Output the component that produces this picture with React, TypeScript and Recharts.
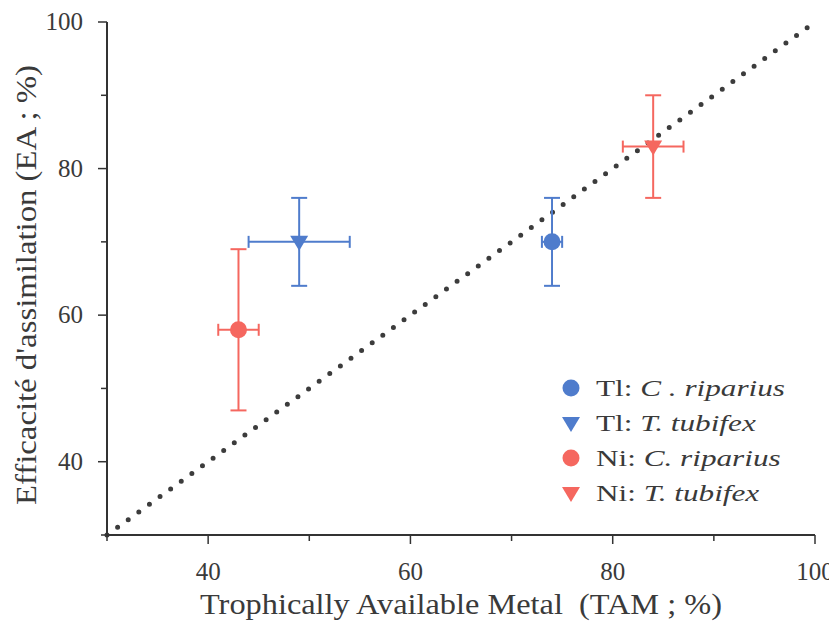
import React from "react";
import {
  ScatterChart,
  Scatter,
  XAxis,
  YAxis,
  ErrorBar,
  ReferenceLine,
} from "recharts";

// ---- data ----
const seriesNames = ["Tl: C . riparius", "Tl: T. tubifex", "Ni: C. riparius", "Ni: T. tubifex"];
const seriesMetal = ["Tl:", "Tl:", "Ni:", "Ni:"];
const seriesSpecies = ["C . riparius", "T. tubifex", "C. riparius", "T. tubifex"];
const seriesShapes = ["circle", "triangle", "circle", "triangle"];
const seriesColors = ["#4f7ccc", "#4f7ccc", "#f5675f", "#f5675f"];
const tamValues = [74, 49, 43, 84];
const tamErrors = [1, 5, 2, 3];
const eaValues = [70, 70, 58, 83];
const eaErrors = [6, 6, 11, 7];
const xTicks = [30, 40, 50, 60, 70, 80, 90, 100];
const yTicks = [30, 40, 50, 60, 70, 80, 90, 100];
const majorTicks = [40, 60, 80, 100];
const identityLine = [
  { x: 30, y: 30 },
  { x: 100, y: 100 },
];

const FONT = "Liberation Serif";
const AXIS = "#333";
const TEXT = "#3a3a3a";

const W = 829;
const H = 616;

const XTick = (props: any) => {
  const { x, y, payload } = props;
  const major = majorTicks.includes(payload.value);
  return (
    <g>
      <line x1={x} x2={x} y1={y} y2={y + (major ? 9 : 6)} stroke={AXIS} strokeWidth={1.5} />
      {major && (
        <text x={x} y={y + 45} textAnchor="middle" fontSize={25} fill={TEXT} style={{ fontFamily: FONT }}>
          {payload.value}
        </text>
      )}
    </g>
  );
};

const YTick = (props: any) => {
  const { x, y, payload } = props;
  const major = majorTicks.includes(payload.value);
  return (
    <g>
      <line x1={x} x2={x - (major ? 9 : 6)} y1={y} y2={y} stroke={AXIS} strokeWidth={1.5} />
      {major && (
        <text x={x - 24} y={y + 8} textAnchor="end" fontSize={25} fill={TEXT} style={{ fontFamily: FONT }}>
          {payload.value}
        </text>
      )}
    </g>
  );
};

const Marker = ({ cx, cy, shape, color }: any) => {
  if (shape === "circle") return <circle cx={cx} cy={cy} r={8.5} fill={color} />;
  return (
    <polygon
      points={`${cx - 9},${cy - 6} ${cx + 9},${cy - 6} ${cx},${cy + 9}`}
      fill={color}
    />
  );
};

const LegendBox = () => (
  <div
    style={{
      position: "absolute",
      left: 550,
      top: 363,
      fontFamily: FONT,
      fontSize: 24,
      color: TEXT,
      lineHeight: "24px",
    }}
  >
    {seriesNames.map((n, i) => (
      <div key={n} style={{ display: "flex", alignItems: "center", height: 34.8, whiteSpace: "nowrap" }}>
        <svg width={26} height={24} style={{ marginRight: 12 }}>
          <Marker cx={13} cy={12} shape={seriesShapes[i]} color={seriesColors[i]} />
        </svg>
        <span style={{ display: "inline-block", transform: "scaleX(1.3)", transformOrigin: "left center" }}>
          {seriesMetal[i]} <i>{seriesSpecies[i]}</i>
        </span>
      </div>
    ))}
  </div>
);

export default function App() {
  return (
    <div style={{ width: W, height: H, position: "relative", background: "#fff" }}>
      <ScatterChart width={W} height={H} margin={{ top: 14, right: 22, bottom: 0, left: 0 }}>
        <XAxis
          type="number"
          dataKey="x"
          domain={[30, 100]}
          ticks={xTicks}
          tick={<XTick />}
          tickSize={0}
          tickMargin={0}
          tickLine={false}
          axisLine={{ stroke: AXIS, strokeWidth: 2 }}
          height={89}
          allowDataOverflow
        />
        <XAxis
          xAxisId="top"
          orientation="top"
          type="number"
          domain={[30, 100]}
          tick={false}
          tickLine={false}
          axisLine={{ stroke: "#2f4a40", strokeWidth: 2 }}
          height={0}
        />
        <YAxis
          type="number"
          dataKey="y"
          domain={[30, 100]}
          ticks={yTicks}
          tick={<YTick />}
          tickSize={0}
          tickMargin={0}
          tickLine={false}
          axisLine={{ stroke: AXIS, strokeWidth: 2 }}
          width={99}
          allowDataOverflow
        />
        <YAxis
          yAxisId="right"
          orientation="right"
          type="number"
          domain={[30, 100]}
          tick={false}
          tickLine={false}
          axisLine={{ stroke: AXIS, strokeWidth: 2 }}
          width={0}
        />
        <ReferenceLine
          segment={identityLine}
          stroke="#3c3c3c"
          strokeWidth={5}
          strokeDasharray="0 13.1"
          strokeLinecap="round"
          ifOverflow="visible"
        />
        {seriesNames.map((n, i) => (
          <Scatter
            key={n}
            name={n}
            data={[{ x: tamValues[i], y: eaValues[i], ex: tamErrors[i], ey: eaErrors[i] }]}
            isAnimationActive={false}
            shape={(p: any) => <Marker cx={p.cx} cy={p.cy} shape={seriesShapes[i]} color={seriesColors[i]} />}
          >
            <ErrorBar dataKey="ex" direction="x" width={6} stroke={seriesColors[i]} strokeWidth={2} />
            <ErrorBar dataKey="ey" direction="y" width={8} stroke={seriesColors[i]} strokeWidth={2} />
          </Scatter>
        ))}
        <text
          x={453}
          y={606}
          textAnchor="middle"
          fontSize={30}
          fill={TEXT}
          textLength={522}
          lengthAdjust="spacingAndGlyphs"
          style={{ fontFamily: FONT, whiteSpace: "pre" }}
        >
          {"Trophically Available Metal  (TAM ; %)"}
        </text>
        <text
          x={0}
          y={0}
          transform={`translate(28, 277) rotate(-90)`}
          textAnchor="middle"
          fontSize={30}
          fill={TEXT}
          textLength={440}
          lengthAdjust="spacingAndGlyphs"
          style={{ fontFamily: FONT }}
        >
          {"Efficacité d'assimilation (EA ; %)"}
        </text>
      </ScatterChart>
      <LegendBox />
    </div>
  );
}
